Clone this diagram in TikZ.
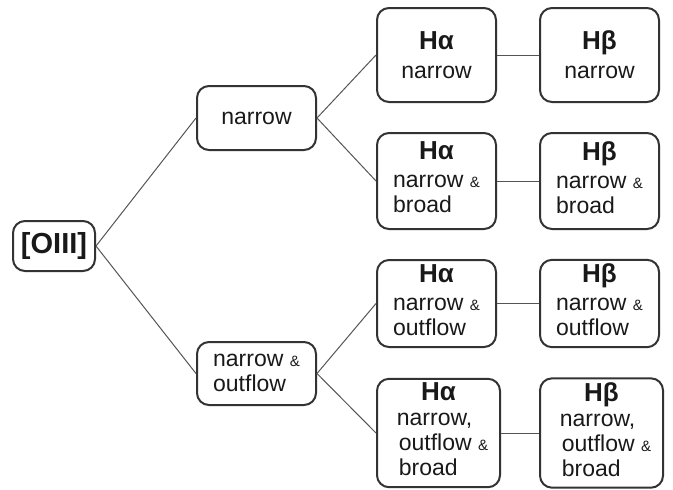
\documentclass[tikz,border=0pt]{standalone}
\usepackage{fontspec}
\setmainfont{Liberation Sans}
\usetikzlibrary{positioning}
\definecolor{boxline}{HTML}{333333}
\definecolor{linkline}{HTML}{555555}
\newcommand{\amp}{{\fontsize{7.5}{7.5}\selectfont\&}}
\newcommand{\head}[1]{{\fontsize{13}{12.5}\selectfont\bfseries #1}}
\newcommand{\lines}[1]{\begin{tabular}[t]{@{}l@{}}#1\end{tabular}}
\tikzstyle{box} = [rectangle, rounded corners=6pt, draw=boxline, line width=1pt, minimum width=59.5pt, inner sep=2pt, align=center, text=black!90, font=\fontsize{11.5}{12.5}\selectfont]
\tikzstyle{link} = [draw=linkline, line width=0.5pt]

\begin{document}
\begin{tikzpicture}[x=0.5pt, y=-0.5pt, node distance=81.5pt]
\useasboundingbox (0,0) rectangle (673,489);
\node (OIII)[box, minimum width=41pt, minimum height=25pt, font=\fontsize{14.5}{14.5}\selectfont\bfseries] at (54,246) {[OIII]};
\node (Narrow)[box, minimum height=32pt] at (256.5,118) {narrow};
\node (NarOut)[box, minimum height=31.5pt] at (256.5,373.5) {\lines{narrow \amp\\ outflow}};
\node (HaN)[box, minimum height=47pt] at (436.5,55) {\head{Hα}\\[2pt] narrow};
\node (HbN)[box, minimum height=47pt, right of=HaN] {\head{Hβ}\\[2pt] narrow};
\node (HaNB)[box, minimum height=48pt] at (436.5,181) {\head{Hα}\\[1.5pt] \lines{narrow \amp\\ broad}};
\node (HbNB)[box, minimum height=48pt, right of=HaNB] {\head{Hβ}\\[1.5pt] \lines{narrow \amp\\ broad}};
\node (HaNO)[box, minimum height=43.5pt] at (436.5,303.5) {\head{Hα}\\[1.5pt] \lines{narrow \amp\\ outflow}};
\node (HbNO)[box, minimum height=43.5pt, right of=HaNO] {\head{Hβ}\\[1.5pt] \lines{narrow \amp\\ outflow}};
\node (HaNOB)[box, minimum width=61.5pt, minimum height=54pt] at (438.5,433) {\head{Hα}\\ \lines{\hspace{4pt}narrow,\\ \hspace{5pt}outflow \amp\\ \hspace{5pt}broad}};
\node (HbNOB)[box, minimum width=61.5pt, minimum height=54pt, right of=HaNOB] {\head{Hβ}\\ \lines{\hspace{4pt}narrow,\\ \hspace{5pt}outflow \amp\\ \hspace{5pt}broad}};
\draw [link](OIII.east) -- (Narrow.west);
\draw [link](OIII.east) -- (NarOut.west);
\draw [link](Narrow.east) -- (HaN.west);
\draw [link](Narrow.east) -- (HaNB.west);
\draw [link](NarOut.east) -- (HaNO.west);
\draw [link](NarOut.east) -- (HaNOB.west);
\draw [link](HaN) -- (HbN);
\draw [link](HaNB) -- (HbNB);
\draw [link](HaNO) -- (HbNO);
\draw [link](HaNOB) -- (HbNOB);
\end{tikzpicture}
\end{document}
